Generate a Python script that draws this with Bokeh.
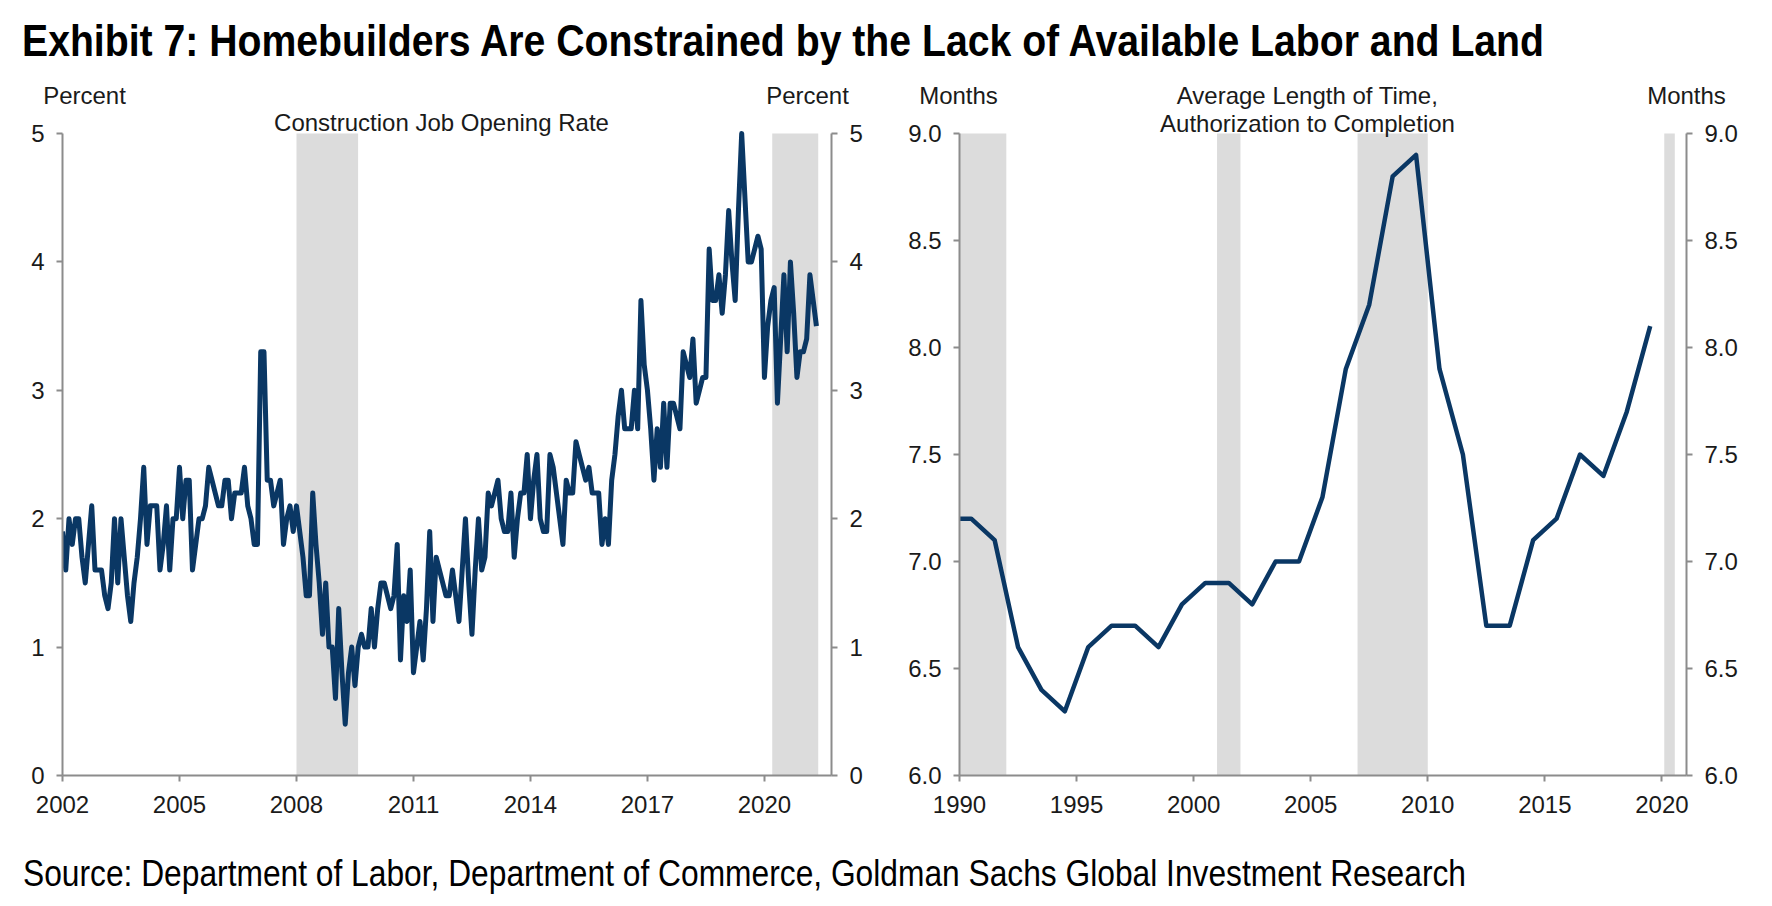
from bokeh.plotting import figure
from bokeh.models import Range1d, LinearAxis, FixedTicker, PrintfTickFormatter, Label, Div
from bokeh.layouts import column, row
from bokeh.embed import file_html
from bokeh.resources import INLINE

# ---------------- texts ----------------
title_text = "Exhibit 7: Homebuilders Are Constrained by the Lack of Available Labor and Land"
source_text = "Source: Department of Labor, Department of Commerce, Goldman Sachs Global Investment Research"
left_title = "Construction Job Opening Rate"
right_title_1 = "Average Length of Time,"
right_title_2 = "Authorization to Completion"
left_unit = "Percent"
right_unit = "Months"

# ---------------- left panel data: monthly construction job opening rate (%) ----------------
jor_start_year = 2002
jor_2002 = [1.9, 1.6, 2.0, 1.8, 2.0, 2.0, 1.7, 1.5, 1.8, 2.1, 1.6, 1.6]
jor_2003 = [1.6, 1.4, 1.3, 1.5, 2.0, 1.5, 2.0, 1.7, 1.4, 1.2, 1.5, 1.7]
jor_2004 = [2.0, 2.4, 1.8, 2.1, 2.1, 2.1, 1.6, 1.8, 2.1, 1.6, 2.0, 2.0]
jor_2005 = [2.4, 2.0, 2.3, 2.3, 1.6, 1.8, 2.0, 2.0, 2.1, 2.4, 2.3, 2.2]
jor_2006 = [2.1, 2.1, 2.3, 2.3, 2.0, 2.2, 2.2, 2.2, 2.4, 2.1, 2.0, 1.8]
jor_2007 = [1.8, 3.3, 3.3, 2.3, 2.3, 2.1, 2.2, 2.3, 1.8, 2.0, 2.1, 1.9]
jor_2008 = [2.1, 1.9, 1.7, 1.4, 1.4, 2.2, 1.8, 1.5, 1.1, 1.5, 1.0, 1.0]
jor_2009 = [0.6, 1.3, 0.8, 0.4, 0.8, 1.0, 0.7, 1.0, 1.1, 1.0, 1.0, 1.3]
jor_2010 = [1.0, 1.3, 1.5, 1.5, 1.4, 1.3, 1.4, 1.8, 0.9, 1.4, 1.2, 1.6]
jor_2011 = [0.8, 1.0, 1.2, 0.9, 1.3, 1.9, 1.2, 1.7, 1.6, 1.5, 1.4, 1.4]
jor_2012 = [1.6, 1.4, 1.2, 1.6, 2.0, 1.5, 1.1, 1.6, 2.0, 1.6, 1.7, 2.2]
jor_2013 = [2.1, 2.2, 2.3, 2.0, 1.9, 1.9, 2.2, 1.7, 2.0, 2.2, 2.2, 2.5]
jor_2014 = [2.0, 2.3, 2.5, 2.0, 1.9, 1.9, 2.5, 2.4, 2.2, 2.0, 1.8, 2.3]
jor_2015 = [2.2, 2.2, 2.6, 2.5, 2.4, 2.3, 2.4, 2.2, 2.2, 2.2, 1.8, 2.0]
jor_2016 = [1.8, 2.3, 2.5, 2.8, 3.0, 2.7, 2.7, 2.7, 3.0, 2.7, 3.7, 3.2]
jor_2017 = [3.0, 2.7, 2.3, 2.7, 2.4, 2.9, 2.4, 2.9, 2.9, 2.8, 2.7, 3.3]
jor_2018 = [3.2, 3.1, 3.4, 2.9, 3.0, 3.1, 3.1, 4.1, 3.7, 3.7, 3.9, 3.6]
jor_2019 = [3.9, 4.4, 4.0, 3.7, 4.4, 5.0, 4.5, 4.0, 4.0, 4.1, 4.2, 4.1]
jor_2020 = [3.1, 3.5, 3.7, 3.8, 2.9, 3.4, 3.9, 3.3, 4.0, 3.6, 3.1, 3.3]
jor_2021 = [3.3, 3.4, 3.9, 3.7, 3.5]

left_x_ticks = [2002, 2005, 2008, 2011, 2014, 2017, 2020]
left_y_ticks = [0, 1, 2, 3, 4, 5]
left_recession_start = [2008.0, 2020.2]
left_recession_end = [2009.58, 2021.38]

# ---------------- right panel data: annual months from authorization to completion ----------------
completion_years = list(range(1989, 2020))
completion_months = [7.2, 7.2, 7.1, 6.6, 6.4, 6.3, 6.6, 6.7, 6.7, 6.6,
                     6.8, 6.9, 6.9, 6.8, 7.0, 7.0, 7.3, 7.9, 8.2, 8.8,
                     8.9, 7.9, 7.5, 6.7, 6.7, 7.1, 7.2, 7.5, 7.4, 7.7, 8.1]
right_x_ticks = [1990, 1995, 2000, 2005, 2010, 2015, 2020]
right_y_ticks = [6.0, 6.5, 7.0, 7.5, 8.0, 8.5, 9.0]
right_recession_start = [1990.0, 2001.0, 2007.0, 2020.1]
right_recession_end = [1992.0, 2002.0, 2010.0, 2020.55]

# ---------------- styles / geometry (page px) ----------------
FONT = "Liberation Sans"
NAVY = "#0a3764"
SHADE = "#dcdcdc"
AXIS = "#8c8c8c"
TXT = "#1a1a1a"
PAGE_W = 1772

TITLE_H = 76          # title strip: 0 .. 76
HEAD_BOTTOM = 110     # header-label strip: 76 .. 110
AXIS_TOP = 133        # where the value axes end (5 / 9.0)
FRAME_BOTTOM = 775    # x axis line
FIG_BOTTOM = 830      # bottom of the chart figures
SOURCE_H = 68

jor_values = (jor_2002 + jor_2003 + jor_2004 + jor_2005 + jor_2006 + jor_2007 + jor_2008 +
              jor_2009 + jor_2010 + jor_2011 + jor_2012 + jor_2013 + jor_2014 + jor_2015 +
              jor_2016 + jor_2017 + jor_2018 + jor_2019 + jor_2020 + jor_2021)
jor_x = [jor_start_year + i / 12.0 for i in range(len(jor_values))]
comp_x = [y + 0.5 for y in completion_years]


def style_axis(ax, ticks, fmt, standoff, bounds=None):
    ax.ticker = FixedTicker(ticks=ticks)
    ax.formatter = PrintfTickFormatter(format=fmt)
    ax.axis_line_color = AXIS
    ax.axis_line_width = 2
    ax.major_tick_line_color = AXIS
    ax.major_tick_line_width = 2
    ax.major_tick_out = 6
    ax.major_tick_in = 0
    ax.minor_tick_out = 0
    ax.minor_tick_in = 0
    ax.major_label_text_font = FONT
    ax.major_label_text_font_size = "24px"
    ax.major_label_text_color = TXT
    ax.major_label_standoff = standoff
    if bounds is not None:
        ax.bounds = bounds


def make_panel(width, x0, x1, y0, y1, bl, br, xt, yt, yfmt):
    # range extends a little above the axis top so the panel titles sit inside the frame
    y_top = y1 + (AXIS_TOP - HEAD_BOTTOM) / (FRAME_BOTTOM - AXIS_TOP) * (y1 - y0)
    p = figure(width=width, height=FIG_BOTTOM - HEAD_BOTTOM,
               x_range=Range1d(x0, x1), y_range=Range1d(y0, y_top),
               toolbar_location=None, output_backend="svg",
               min_border_left=bl, min_border_right=br,
               min_border_top=0, min_border_bottom=FIG_BOTTOM - FRAME_BOTTOM)
    p.outline_line_color = None
    p.xgrid.visible = False
    p.ygrid.visible = False
    p.background_fill_color = "white"
    p.border_fill_color = "white"
    style_axis(p.xaxis[0], xt, "%d", 14)
    style_axis(p.yaxis[0], yt, yfmt, 12, (y0, y1))
    ra = LinearAxis()
    style_axis(ra, yt, yfmt, 12, (y0, y1))
    p.add_layout(ra, "right")
    return p


def label(p, x, y, text, size="24px"):
    p.add_layout(Label(x=x, y=y, text=text, text_font=FONT, text_font_size=size,
                       text_color=TXT, text_align="center", text_baseline="middle"))


def to_data(px, py, fl, fr, x0, x1, y0, y1):
    return (x0 + (px - fl) / (fr - fl) * (x1 - x0),
            y0 + (FRAME_BOTTOM - py) / (FRAME_BOTTOM - AXIS_TOP) * (y1 - y0))


def svg_text_div(text, height, x, baseline, size, length, weight="normal"):
    html = (f'<svg xmlns="http://www.w3.org/2000/svg" width="{PAGE_W}" height="{height}" '
            f'style="display:block">'
            f'<text x="{x}" y="{baseline}" font-family="{FONT}" font-size="{size}" '
            f'font-weight="{weight}" fill="#000" textLength="{length}" '
            f'lengthAdjust="spacingAndGlyphs">{text}</text></svg>')
    return Div(text=html, width=PAGE_W, height=height, margin=(0, 0, 0, 0))


# ---------------- header strip with the unit labels (page px coordinates) ----------------
head = figure(width=PAGE_W, height=HEAD_BOTTOM - TITLE_H,
              x_range=Range1d(0, PAGE_W), y_range=Range1d(HEAD_BOTTOM, TITLE_H),
              x_axis_type=None, y_axis_type=None, toolbar_location=None, output_backend="svg",
              min_border_left=0, min_border_right=0, min_border_top=0, min_border_bottom=0)
head.outline_line_color = None
head.xgrid.visible = False
head.ygrid.visible = False
label(head, 84, 95, left_unit)
label(head, 807, 95, left_unit)
label(head, 958, 95, right_unit)
label(head, 1686, 95, right_unit)
label(head, 1307, 95, right_title_1)

# ---------------- left panel ----------------
LX0, LX1, LY0, LY1 = 2002.0, 2021.72, 0.0, 5.0
p1 = make_panel(900, LX0, LX1, LY0, LY1, 62, 69, left_x_ticks, left_y_ticks, "%d")
p1.quad(left=left_recession_start, right=left_recession_end, bottom=LY0, top=LY1,
        fill_color=SHADE, line_color=None)
p1.line(jor_x, jor_values, line_color=NAVY, line_width=5, line_join="round")
lg = dict(fl=62, fr=831, x0=LX0, x1=LX1, y0=LY0, y1=LY1)
label(p1, *to_data(441, 122, **lg), left_title)

# ---------------- right panel ----------------
RX0, RX1, RY0, RY1 = 1990.0, 2021.05, 6.0, 9.0
p2 = make_panel(868, RX0, RX1, RY0, RY1, 59, 82, right_x_ticks, right_y_ticks, "%.1f")
p2.quad(left=right_recession_start, right=right_recession_end, bottom=RY0, top=RY1,
        fill_color=SHADE, line_color=None)
p2.line(comp_x, completion_months, line_color=NAVY, line_width=4.5, line_join="round")
rg = dict(fl=959, fr=1686, x0=RX0, x1=RX1, y0=RY0, y1=RY1)
label(p2, *to_data(1307, 123, **rg), right_title_2)

# ---------------- title and source (condensed via SVG textLength) ----------------
title_div = svg_text_div(title_text, TITLE_H, 22, 56, 44, 1522, weight="bold")
source_div = svg_text_div(source_text, SOURCE_H, 23, 56, 37, 1443)

layout = column(title_div, head, row(p1, p2), source_div)
open("out.html", "w").write(file_html(layout, INLINE))
